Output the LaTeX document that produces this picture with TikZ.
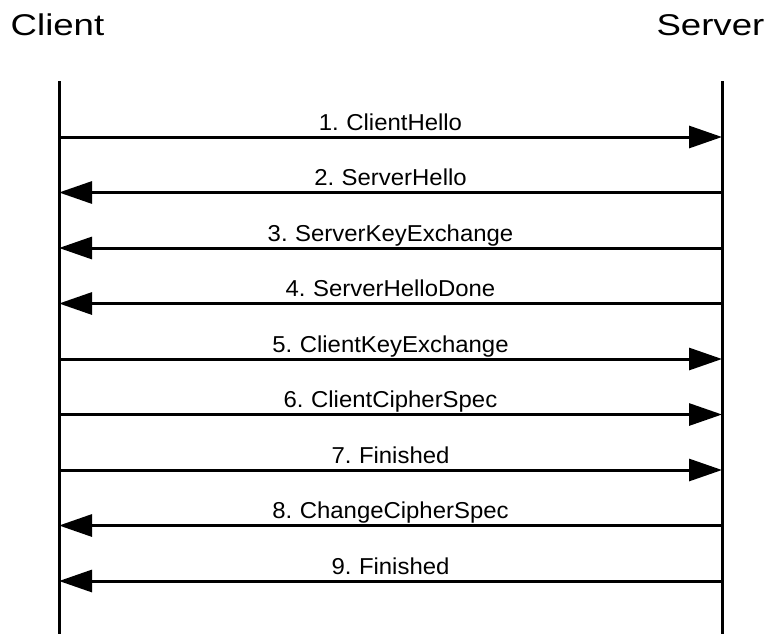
\documentclass[tikz,border=0pt]{standalone}
\usepackage{fontspec}
\setmainfont{Liberation Sans}
\newfontfamily\headfont[FakeStretch=1.22]{Liberation Sans}
\newfontfamily\msgfont[FakeStretch=1.04,WordSpace=0.8]{Liberation Sans}
\usetikzlibrary{arrows.meta}
\begin{document}
\begin{tikzpicture}[x=1pt,y=-1pt,
  head/.style={inner sep=0pt, font=\headfont\fontsize{30}{30}\selectfont},
  life/.style={line width=3pt},
  msgline/.style={line width=3pt, -{Triangle[length=33pt,width=22pt]}},
  lbl/.style={inner sep=0pt, anchor=base, yshift=7pt, font=\msgfont\fontsize{23}{23}\selectfont}]
\useasboundingbox (0,0) rectangle (773,634);
\node[head, anchor=base west] (client) at (10.5,36) {Client};
\node[head, anchor=base east] (server) at (764.5,36) {Server};
\coordinate (ctop) at (59,81);
\coordinate (cbot) at (59,634);
\coordinate (stop) at (722,81);
\coordinate (sbot) at (722,634);
\draw[life] (ctop) -- (cbot);
\draw[life] (stop) -- (sbot);
\foreach \i in {1,...,9}{
  \coordinate (c\i) at (59,{137+55.5*(\i-1)});
  \coordinate (s\i) at (722,{137+55.5*(\i-1)});
}
\draw[msgline] (c1) -- node[lbl] (m1) {1. ClientHello} (s1);
\draw[msgline] (s2) -- node[lbl] (m2) {2. ServerHello} (c2);
\draw[msgline] (s3) -- node[lbl] (m3) {3. ServerKeyExchange} (c3);
\draw[msgline] (s4) -- node[lbl] (m4) {4. ServerHelloDone} (c4);
\draw[msgline] (c5) -- node[lbl] (m5) {5. ClientKeyExchange} (s5);
\draw[msgline] (c6) -- node[lbl] (m6) {6. ClientCipherSpec} (s6);
\draw[msgline] (c7) -- node[lbl] (m7) {7. Finished} (s7);
\draw[msgline] (s8) -- node[lbl] (m8) {8. ChangeCipherSpec} (c8);
\draw[msgline] (s9) -- node[lbl] (m9) {9. Finished} (c9);
\end{tikzpicture}
\end{document}
